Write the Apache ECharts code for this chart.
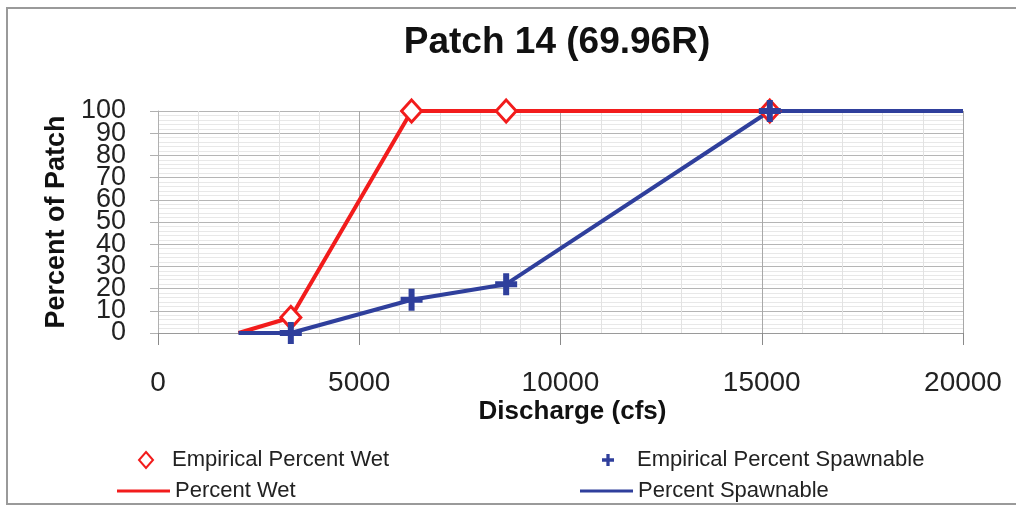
<!DOCTYPE html>
<html>
<head>
<meta charset="utf-8">
<script src="https://cdn.jsdelivr.net/npm/echarts@6/dist/echarts.min.js"></script>
<style>
  html, body { margin: 0; padding: 0; background: #fff; }
  #chart { width: 1016px; height: 506px; }
</style>
</head>
<body>
<div id="chart"></div>
<script>
// 模型曲线（线）
var wetLineX = [2000, 3300, 6300, 8650, 15200, 20000]
var wetLineY = [0, 7, 100, 100, 100, 100]
var spawnLineX = [2000, 3300, 6300, 8650, 15200, 20000]
var spawnLineY = [0, 0, 15, 22, 100, 100]
// 实测点
var empWetX = [3300, 6300, 8650, 15200]
var empWetY = [7, 100, 100, 100]
var empSpawnX = [3300, 6300, 8650, 15200]
var empSpawnY = [0, 15, 22, 100]
// y 轴刻度标签（分两组画，避免相互遮挡被隐藏）
var yLabelsEven = [0, 20, 40, 60, 80, 100]
var yLabelsOdd = [10, 30, 50, 70, 90]

function pairs(xs, ys) {
  return xs.map(function (x, i) { return [x, ys[i]] })
}

var RED = '#f21c1c'
var BLUE = '#2f3f9c'
var FONT = 'Liberation Sans, Arial, sans-serif'
var PLUS = 'path://M4,0h3v4h4v3h-4v4h-3v-4h-4v-3h4z'
var legendText = { fontFamily: FONT, fontSize: 22, color: '#222' }
var yLabelStyle = { margin: 32, fontFamily: FONT, fontSize: 27, color: '#222' }

var myChart = echarts.init(document.getElementById('chart'))

var option = {
  animation: false,
  backgroundColor: '#fff',
  title: {
    text: 'Patch 14 (69.96R)',
    left: 552,
    textAlign: 'center',
    top: 19,
    textStyle: { fontFamily: FONT, fontSize: 37, fontWeight: 'bold', color: '#111' }
  },
  graphic: [
    {
      type: 'rect',
      shape: { x: 7, y: 8, width: 1030, height: 496 },
      style: { fill: 'none', stroke: '#9a9a9a', lineWidth: 2 },
      silent: true
    }
  ],
  legend: [
    {
      data: ['Empirical Percent Wet'],
      left: 133, top: 444,
      itemWidth: 14, itemHeight: 16,
      textStyle: Object.assign({ padding: [0, 0, 0, 14] }, legendText)
    },
    {
      data: [{ name: 'Percent Wet', icon: 'rect' }],
      left: 112, top: 475,
      itemWidth: 53, itemHeight: 3,
      textStyle: legendText
    },
    {
      data: ['Empirical Percent Spawnable'],
      left: 597, top: 444,
      itemWidth: 12, itemHeight: 12,
      textStyle: Object.assign({ padding: [0, 0, 0, 18] }, legendText)
    },
    {
      data: [{ name: 'Percent Spawnable', icon: 'rect' }],
      left: 575, top: 475,
      itemWidth: 53, itemHeight: 3,
      textStyle: legendText
    }
  ],
  grid: {
    left: 158,
    right: 53,
    top: 111,
    bottom: 173,
    containLabel: false
  },
  xAxis: {
    type: 'value',
    min: 0,
    max: 20000,
    interval: 5000,
    name: 'Discharge (cfs)',
    nameLocation: 'middle',
    nameGap: 66,
    nameTextStyle: {
      fontFamily: FONT, fontSize: 26, fontWeight: 'bold', color: '#111',
      padding: [0, 0, 0, 24]
    },
    axisLine: { show: true, lineStyle: { color: '#9a9a9a', width: 1 } },
    axisTick: { show: true, inside: false, length: 12, lineStyle: { color: '#8a8a8a' } },
    axisLabel: {
      margin: 36,
      fontFamily: FONT, fontSize: 28, color: '#222',
      showMinLabel: true, showMaxLabel: true,
      formatter: function (v) { return String(v) }
    },
    splitLine: { show: true, lineStyle: { color: '#a8a8a8', width: 1 } },
    minorTick: { show: false, splitNumber: 5 },
    minorSplitLine: { show: true, lineStyle: { color: '#e2e2e2', width: 1 } }
  },
  yAxis: [
    {
      type: 'value',
      min: 0,
      max: 100,
      interval: 10,
      name: 'Percent of Patch',
      nameLocation: 'middle',
      nameGap: 88,
      nameTextStyle: { fontFamily: FONT, fontSize: 27, fontWeight: 'bold', color: '#111' },
      axisLine: { show: true, lineStyle: { color: '#b0b0b0', width: 1 } },
      axisTick: { show: true, inside: false, length: 8, lineStyle: { color: '#b0b0b0' } },
      axisLabel: Object.assign({ customValues: yLabelsEven, showMinLabel: true, showMaxLabel: true }, yLabelStyle),
      splitLine: { show: true, lineStyle: { color: '#b5b5b5', width: 1 } },
      minorTick: { show: false, splitNumber: 5 },
      minorSplitLine: { show: true, lineStyle: { color: '#e8e8e8', width: 1 } }
    },
    {
      type: 'value',
      min: 0,
      max: 100,
      interval: 10,
      position: 'left',
      offset: 0,
      axisLine: { show: false },
      axisTick: { show: false },
      splitLine: { show: false },
      axisLabel: Object.assign({ customValues: yLabelsOdd }, yLabelStyle)
    }
  ],
  series: [
    {
      name: 'Percent Wet',
      type: 'line',
      data: pairs(wetLineX, wetLineY),
      symbol: 'none',
      smooth: false,
      lineStyle: { color: RED, width: 4 },
      itemStyle: { color: RED },
      z: 2
    },
    {
      name: 'Percent Spawnable',
      type: 'line',
      data: pairs(spawnLineX, spawnLineY),
      symbol: 'none',
      smooth: false,
      lineStyle: { color: BLUE, width: 4 },
      itemStyle: { color: BLUE },
      z: 3
    },
    {
      name: 'Empirical Percent Wet',
      type: 'scatter',
      data: pairs(empWetX, empWetY),
      symbol: 'diamond',
      symbolSize: [20, 22],
      itemStyle: { color: '#fff', borderColor: RED, borderWidth: 3, opacity: 1 },
      z: 4
    },
    {
      name: 'Empirical Percent Spawnable',
      type: 'scatter',
      data: pairs(empSpawnX, empSpawnY),
      symbol: PLUS,
      symbolSize: 22,
      itemStyle: { color: BLUE, opacity: 1 },
      z: 5
    }
  ]
}

myChart.setOption(option)
</script>
</body>
</html>
